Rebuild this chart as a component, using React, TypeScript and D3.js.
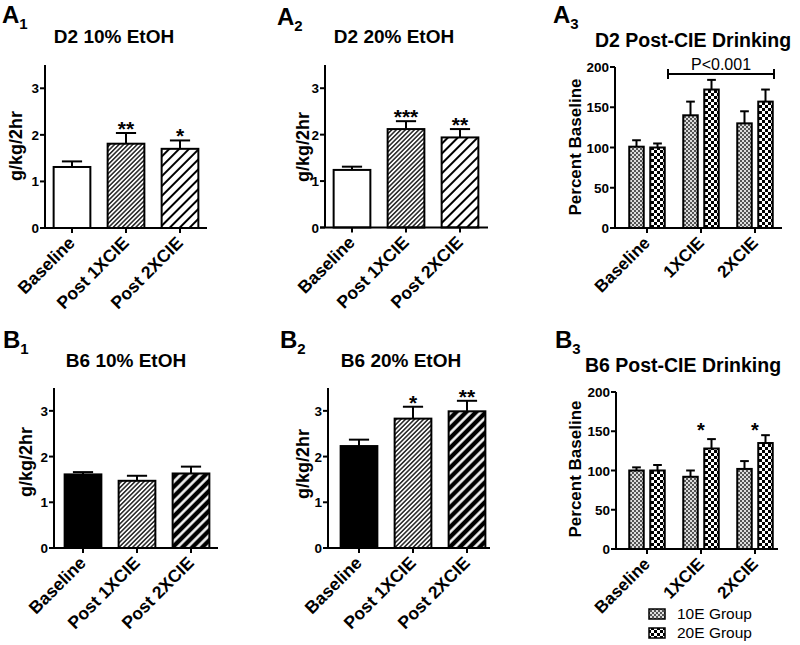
import React from "react";
import * as d3 from "d3";

const FONT = "'Liberation Sans', Arial, Helvetica, sans-serif";

// categories
const timepoints = ["Baseline", "Post 1XCIE", "Post 2XCIE"];
const cieGroups = ["Baseline", "1XCIE", "2XCIE"];
const seriesNames = ["10E Group", "20E Group"];
const gramTicks = [0, 1, 2, 3];
const pctTicks = [0, 50, 100, 150, 200];

// g/kg/2hr intake, mean and SEM
const d2Eth10 = [1.31, 1.81, 1.7];
const d2Eth10Err = [0.12, 0.23, 0.18];
const d2Eth10Stars = ["", "**", "*"];
const d2Eth20 = [1.24, 2.12, 1.94];
const d2Eth20Err = [0.07, 0.17, 0.18];
const d2Eth20Stars = ["", "***", "**"];
const b6Eth10 = [1.61, 1.47, 1.63];
const b6Eth10Err = [0.05, 0.11, 0.15];
const b6Eth10Stars = ["", "", ""];
const b6Eth20 = [2.23, 2.83, 2.99];
const b6Eth20Err = [0.14, 0.26, 0.23];
const b6Eth20Stars = ["", "*", "**"];

// percent of baseline, per group
const d2Pct10E = [101, 140, 130];
const d2Pct10EErr = [8, 17, 15];
const d2Pct20E = [100, 172, 157];
const d2Pct20EErr = [5, 12, 15];
const b6Pct10E = [100, 92, 102];
const b6Pct10EErr = [4, 8, 10];
const b6Pct20E = [100, 128, 135];
const b6Pct20EErr = [7, 12, 10];
const b6PctStars = ["", "*", "*"];
const b6PctStarLevel = 157;

const d2Fills = ["#fff", "url(#hatchDense)", "url(#hatchSparse)"];
const b6Fills = ["#000", "url(#hatchDense)", "url(#hatchInv)"];
const groupFills = ["url(#checkFine)", "url(#checkCoarse)"];

function PanelLetter({ x, y, letter, sub }) {
  return (
    <text x={x} y={y} fontFamily={FONT} fontWeight="bold" fontSize={24}>
      {letter}
      <tspan fontSize={15} dy={6}>{sub}</tspan>
    </text>
  );
}

function SimplePanel(p) {
  const y = d3.scaleLinear().domain([0, 3.5]).range([p.y0, p.yTop]);
  const x = d3.scaleBand().domain(timepoints).range([p.bandStart, p.bandStart + 162]).padding(0);
  const bw = x.bandwidth() * 0.68;
  const cap = bw * 0.55;
  return (
    <g fontFamily={FONT}>
      <PanelLetter x={p.lx} y={p.ly} letter={p.letter} sub={p.sub} />
      <text x={p.tx} y={p.ty} textAnchor="middle" fontWeight="bold" fontSize={19}>{p.title}</text>
      <text transform={`translate(${p.ylx},${p.yly}) rotate(-90)`} textAnchor="middle" fontWeight="bold" fontSize={18}>g/kg/2hr</text>
      {p.values.map((v, i) => {
        const cx = x(timepoints[i]) + x.bandwidth() / 2;
        const top = y(v);
        const capY = y(v + p.errs[i]);
        return (
          <g key={i}>
            <line x1={cx} x2={cx} y1={top} y2={capY} stroke="#000" strokeWidth={2} />
            <line x1={cx - cap / 2} x2={cx + cap / 2} y1={capY} y2={capY} stroke="#000" strokeWidth={2} />
            <rect x={cx - bw / 2} y={top} width={bw} height={p.y0 - top} fill={p.fills[i]} stroke="#000" strokeWidth={2} />
            {p.stars[i] && (
              <text x={cx} y={capY + 3} textAnchor="middle" fontWeight="bold" fontSize={21}>{p.stars[i]}</text>
            )}
          </g>
        );
      })}
      <line x1={p.axisX} x2={p.axisX} y1={p.y0} y2={p.yTop} stroke="#000" strokeWidth={2} />
      <line x1={p.axisX - 5} x2={p.axisEnd} y1={p.y0} y2={p.y0} stroke="#000" strokeWidth={2} />
      {gramTicks.map((t) => (
        <g key={t}>
          <line x1={p.axisX - 5} x2={p.axisX} y1={y(t)} y2={y(t)} stroke="#000" strokeWidth={2} />
          <text x={p.axisX - 6} y={y(t) + 5} textAnchor="end" fontWeight="bold" fontSize={13.5}>{t}</text>
        </g>
      ))}
      {timepoints.map((c) => {
        const cx = x(c) + x.bandwidth() / 2;
        return (
          <g key={c}>
            <line x1={cx} x2={cx} y1={p.y0} y2={p.y0 + 5} stroke="#000" strokeWidth={2} />
            <text transform={`translate(${cx + 4},${p.y0 + 16}) rotate(-45)`} textAnchor="end" fontWeight="bold" fontSize={17.5}>{c}</text>
          </g>
        );
      })}
    </g>
  );
}

function GroupPanel(p) {
  const y = d3.scaleLinear().domain([0, 200]).range([p.y0, p.yTop]);
  const x0 = d3.scaleBand().domain(cieGroups).range([p.bandStart, p.bandStart + 162]).padding(0);
  const x1 = d3.scaleBand().domain(seriesNames).range([-17.75, 17.75]).paddingInner(0.31);
  const bw = x1.bandwidth();
  const cap = bw * 0.6;
  const series = [
    { vals: p.v10, errs: p.e10 },
    { vals: p.v20, errs: p.e20 },
  ];
  const bx1 = x0("1XCIE") - 6;
  const bx2 = x0("2XCIE") + x0.bandwidth() - 8;
  return (
    <g fontFamily={FONT}>
      <PanelLetter x={p.lx} y={p.ly} letter={p.letter} sub={p.sub} />
      <text x={p.tx} y={p.ty} textAnchor="middle" fontWeight="bold" fontSize={19.5}>{p.title}</text>
      <text transform={`translate(${p.ylx},${p.yly}) rotate(-90)`} textAnchor="middle" fontWeight="bold" fontSize={17}>Percent Baseline</text>
      {cieGroups.map((g, gi) => {
        const gc = x0(g) + x0.bandwidth() / 2;
        return (
          <g key={g}>
            {series.map((s, si) => {
              const cx = gc + x1(seriesNames[si]) + bw / 2;
              const top = y(s.vals[gi]);
              const capY = y(s.vals[gi] + s.errs[gi]);
              return (
                <g key={si}>
                  <line x1={cx} x2={cx} y1={top} y2={capY} stroke="#000" strokeWidth={2} />
                  <line x1={cx - cap / 2} x2={cx + cap / 2} y1={capY} y2={capY} stroke="#000" strokeWidth={2} />
                  <rect x={cx - bw / 2} y={top} width={bw} height={p.y0 - top} fill={groupFills[si]} stroke="#000" strokeWidth={2} />
                </g>
              );
            })}
            {p.stars && p.stars[gi] && (
              <text x={gc} y={y(p.starLevel) + 11} textAnchor="middle" fontWeight="bold" fontSize={20}>{p.stars[gi]}</text>
            )}
          </g>
        );
      })}
      <line x1={p.axisX} x2={p.axisX} y1={p.y0} y2={p.yTop} stroke="#000" strokeWidth={2} />
      <line x1={p.axisX - 5} x2={p.axisEnd} y1={p.y0} y2={p.y0} stroke="#000" strokeWidth={2} />
      {pctTicks.map((t) => (
        <g key={t}>
          <line x1={p.axisX - 5} x2={p.axisX} y1={y(t)} y2={y(t)} stroke="#000" strokeWidth={2} />
          <text x={p.axisX - 6} y={y(t) + 5} textAnchor="end" fontWeight="bold" fontSize={13.5}>{t}</text>
        </g>
      ))}
      {cieGroups.map((c) => {
        const cx = x0(c) + x0.bandwidth() / 2;
        return (
          <g key={c}>
            <line x1={cx} x2={cx} y1={p.y0} y2={p.y0 + 5} stroke="#000" strokeWidth={2} />
            <text transform={`translate(${cx + 4},${p.y0 + 16}) rotate(-45)`} textAnchor="end" fontWeight="bold" fontSize={17}>{c}</text>
          </g>
        );
      })}
      {p.bracket && (
        <g>
          <line x1={bx1} x2={bx2} y1={y(200) + 7} y2={y(200) + 7} stroke="#000" strokeWidth={2} />
          <line x1={bx1} x2={bx1} y1={y(200) + 2} y2={y(200) + 12} stroke="#000" strokeWidth={2} />
          <line x1={bx2} x2={bx2} y1={y(200) + 2} y2={y(200) + 12} stroke="#000" strokeWidth={2} />
          <text x={(bx1 + bx2) / 2} y={y(200) + 3} textAnchor="middle" fontSize={16}>{p.bracket}</text>
        </g>
      )}
    </g>
  );
}

export default function App() {
  return (
    <svg width={800} height={645} style={{ position: "absolute", left: 0, top: 0, background: "#fff" }}>
      <defs>
        <pattern id="hatchDense" patternUnits="userSpaceOnUse" width={3.2} height={3.2} patternTransform="rotate(45)">
          <rect width={3.2} height={3.2} fill="#fff" />
          <line x1={0.8} x2={0.8} y1={0} y2={3.2} stroke="#222" strokeWidth={1.5} />
        </pattern>
        <pattern id="hatchSparse" patternUnits="userSpaceOnUse" width={7} height={7} patternTransform="rotate(45)">
          <rect width={7} height={7} fill="#fff" />
          <line x1={1} x2={1} y1={0} y2={7} stroke="#000" strokeWidth={2} />
        </pattern>
        <pattern id="hatchInv" patternUnits="userSpaceOnUse" width={7} height={7} patternTransform="rotate(45)">
          <rect width={7} height={7} fill="#000" />
          <line x1={1.5} x2={1.5} y1={0} y2={7} stroke="#fff" strokeWidth={2.5} />
        </pattern>
        <pattern id="checkFine" patternUnits="userSpaceOnUse" width={4} height={4}>
          <rect width={4} height={4} fill="#ddd" />
          <rect width={2} height={2} fill="#555" />
          <rect x={2} y={2} width={2} height={2} fill="#555" />
        </pattern>
        <pattern id="checkCoarse" patternUnits="userSpaceOnUse" width={6} height={6}>
          <rect width={6} height={6} fill="#fff" />
          <rect width={3} height={3} fill="#000" />
          <rect x={3} y={3} width={3} height={3} fill="#000" />
        </pattern>
      </defs>

      <SimplePanel letter="A" sub="1" lx={2} ly={23} title="D2 10% EtOH" tx={114} ty={43} ylx={22} yly={146}
        axisX={45} axisEnd={207} y0={228} yTop={65} bandStart={45}
        values={d2Eth10} errs={d2Eth10Err} stars={d2Eth10Stars} fills={d2Fills} />
      <SimplePanel letter="A" sub="2" lx={277} ly={25} title="D2 20% EtOH" tx={394} ty={43} ylx={309} yly={147}
        axisX={325} axisEnd={488} y0={227.5} yTop={65} bandStart={325}
        values={d2Eth20} errs={d2Eth20Err} stars={d2Eth20Stars} fills={d2Fills} />
      <GroupPanel letter="A" sub="3" lx={553} ly={23} title="D2 Post-CIE Drinking" tx={693} ty={47} ylx={581} yly={147}
        axisX={615} axisEnd={782} y0={228} yTop={67} bandStart={620}
        v10={d2Pct10E} e10={d2Pct10EErr} v20={d2Pct20E} e20={d2Pct20EErr} bracket="P<0.001" />

      <SimplePanel letter="B" sub="1" lx={3} ly={348} title="B6 10% EtOH" tx={126} ty={367} ylx={32} yly={462}
        axisX={54} axisEnd={218} y0={548} yTop={388} bandStart={56}
        values={b6Eth10} errs={b6Eth10Err} stars={b6Eth10Stars} fills={b6Fills} />
      <SimplePanel letter="B" sub="2" lx={280} ly={348} title="B6 20% EtOH" tx={401} ty={367} ylx={309} yly={464}
        axisX={328} axisEnd={490} y0={548} yTop={388} bandStart={332}
        values={b6Eth20} errs={b6Eth20Err} stars={b6Eth20Stars} fills={b6Fills} />
      <GroupPanel letter="B" sub="3" lx={555} ly={348} title="B6 Post-CIE Drinking" tx={683} ty={372} ylx={581} yly={469}
        axisX={616} axisEnd={778} y0={549} yTop={392} bandStart={620}
        v10={b6Pct10E} e10={b6Pct10EErr} v20={b6Pct20E} e20={b6Pct20EErr}
        stars={b6PctStars} starLevel={b6PctStarLevel} />

      {seriesNames.map((s, i) => (
        <g key={s} fontFamily={FONT}>
          <rect x={649} y={609 + i * 19} width={16} height={10} fill={groupFills[i]} stroke="#000" strokeWidth={1.5} />
          <text x={677} y={619 + i * 19} fontSize={15.5}>{s}</text>
        </g>
      ))}
    </svg>
  );
}
